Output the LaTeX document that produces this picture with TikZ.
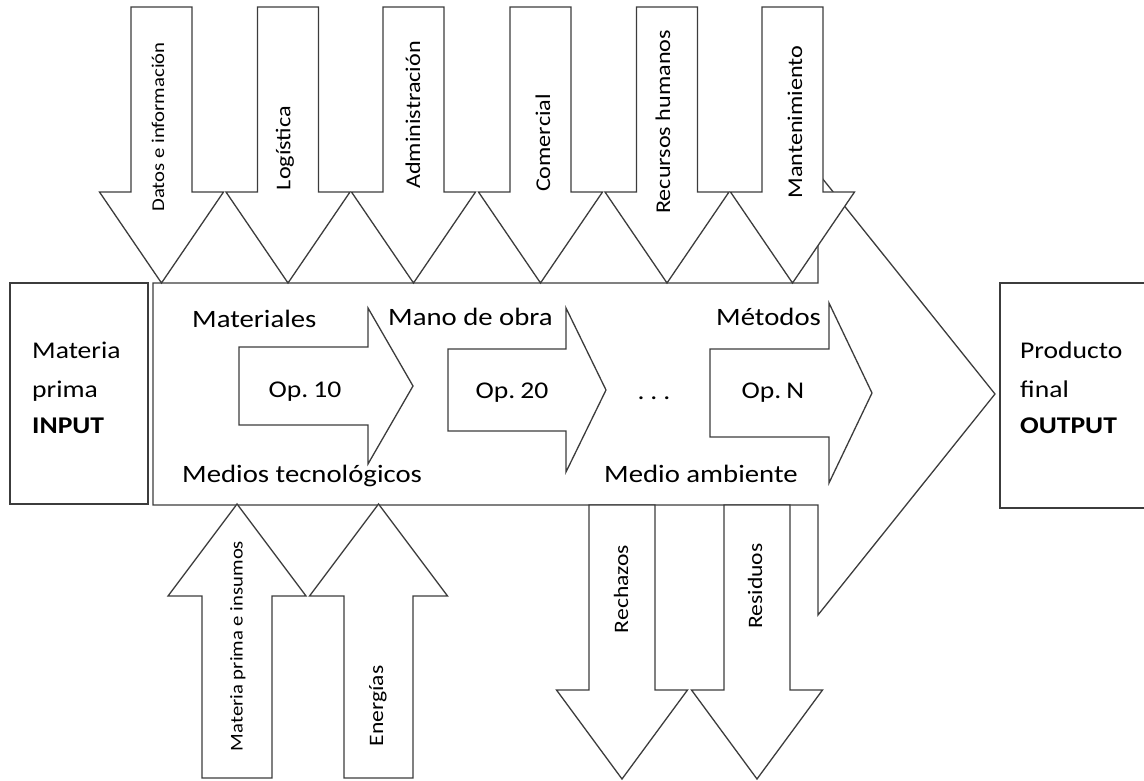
\documentclass[tikz,border=0pt]{standalone}
\usepackage{fontspec}
\setmainfont{Carlito}[FakeStretch=1.15]
\definecolor{edgegray}{RGB}{60,60,60}
\begin{document}
\begin{tikzpicture}[x=1pt,y=-1pt,
  shp/.style={draw=edgegray, fill=white, line width=1.3pt, line join=miter},
  boxlbl/.style={anchor=base west, inner sep=0pt, font=\fontsize{24}{28}\selectfont},
  mainlbl/.style={anchor=base west, inner sep=0pt, font=\fontsize{25}{29}\selectfont},
  oplbl/.style={anchor=base, inner sep=0pt, font=\fontsize{24}{28}\selectfont},
  sidelbl/.style={rotate=90, inner sep=0pt, font=\fontsize{21}{25}\selectfont},
  smalllbl/.style={rotate=90, inner sep=0pt, font=\fontsize{18}{22}\selectfont}]
\useasboundingbox (0,0) rectangle (1144,781);
\clip (0,0) rectangle (1144,781);

% main process arrow
\draw[shp] (153,283) -- (818,283) -- (818,173) -- (995,394) -- (818,615)
  -- (818,505) -- (153,505) -- cycle;

% support functions entering from above
\foreach \c in {161.5,288,413.5,540.5,667,792.5}{
  \draw[shp] (\c-30.5,7) -- (\c+30.5,7) -- (\c+30.5,192) -- (\c+62,192)
    -- (\c,283) -- (\c-62,192) -- (\c-30.5,192) -- cycle;
}
\node[smalllbl] (datos) at (158,127) {Datos e información};
\node[sidelbl] (logis) at (285,148) {Logística};
\node[sidelbl] (admin) at (413,115) {Administración};
\node[sidelbl] (comer) at (543,143) {Comercial};
\node[sidelbl] (rrhh)  at (663,122) {Recursos humanos};
\node[sidelbl] (mant)  at (795,122) {Mantenimiento};

% resources entering from below
\foreach \c/\b/\h in {237/35/69,378.5/34.5/69}{
  \draw[shp] (\c-\b,778) -- (\c+\b,778) -- (\c+\b,596) -- (\c+\h,596)
    -- (\c,504) -- (\c-\h,596) -- (\c-\b,596) -- cycle;
}
\node[smalllbl] (insumos) at (238,646) {Materia prima e insumos};
\node[sidelbl, font=\fontsize{20.5}{24}\selectfont] (energia) at (378,706) {Energías};

% losses leaving downwards
\foreach \c in {622,757}{
  \draw[shp] (\c-33,505) -- (\c+33,505) -- (\c+33,690) -- (\c+65.5,690)
    -- (\c,779) -- (\c-65.5,690) -- (\c-33,690) -- cycle;
}
\node[sidelbl, font=\fontsize{20.5}{24}\selectfont] (rechazos) at (621,589) {Rechazos};
\node[sidelbl, font=\fontsize{20.5}{24}\selectfont] (residuos) at (755,586) {Residuos};

% input and output boxes
\draw[shp] (10,283) rectangle (148,504);
\draw[shp] (1000,283) rectangle (1160,508);
\node[boxlbl] (inA) at (32,358) {Materia};
\node[boxlbl] (inB) at (32,397) {prima};
\node[boxlbl] (inC) at (32,433) {\textbf{INPUT}};
\node[boxlbl] (outA) at (1020,358) {Producto};
\node[boxlbl] (outB) at (1020,397) {final};
\node[boxlbl] (outC) at (1020,433) {\textbf{OUTPUT}};

% operations
\draw[shp] (239,347) -- (368,347) -- (368,308) -- (413,386) -- (368,464)
  -- (368,425) -- (239,425) -- cycle;
\draw[shp] (448,349) -- (566,349) -- (566,308) -- (606,390) -- (566,472)
  -- (566,431) -- (448,431) -- cycle;
\draw[shp] (710,349) -- (829,349) -- (829,303) -- (872,393) -- (829,483)
  -- (829,437) -- (710,437) -- cycle;
\node[oplbl] (op10) at (305,397) {Op.\hspace{5pt}10};
\node[oplbl] (op20) at (512,398) {Op.\hspace{5pt}20};
\node[oplbl] (opN)  at (773,398) {Op.\hspace{5pt}N};
\node[oplbl] (dots) at (654,399) {.\hspace{6pt}.\hspace{6pt}.};

% factors acting on the process
\node[mainlbl] (mat)   at (192,327) {Materiales};
\node[mainlbl] (mano)  at (388,325) {Mano de obra};
\node[mainlbl] (metod) at (716,325) {Métodos};
\node[mainlbl] (medtec) at (182,482) {Medios tecnológicos};
\node[mainlbl] (medamb) at (604,482) {Medio ambiente};
\end{tikzpicture}
\end{document}
